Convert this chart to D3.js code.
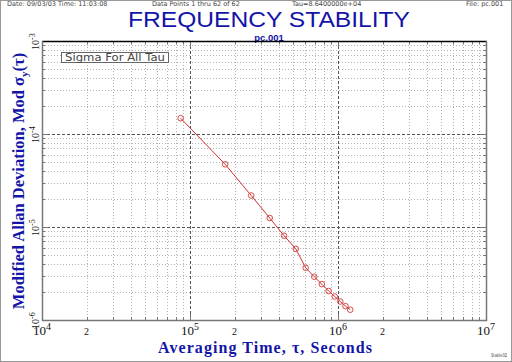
<!DOCTYPE html>
<html>
<head>
<meta charset="utf-8">
<script src="https://cdn.jsdelivr.net/npm/d3@7"></script>
<style>
  body { margin: 0; background: #fff; }
  svg { display: block; }
</style>
</head>
<body>
<div id="chart"></div>
<script>
// Data: tau (multiples of 86400 s) and Mod sigma_y(tau)
const tauValues = [86400, 172800, 259200, 345600, 432000, 518400, 604800,
                   691200, 777600, 864000, 950400, 1036800, 1123200, 1209600];
const sigmaValues = [1.48e-4, 4.72e-5, 2.18e-5, 1.25e-5, 8.06e-6, 5.83e-6, 3.64e-6,
                     2.92e-6, 2.43e-6, 2.05e-6, 1.79e-6, 1.58e-6, 1.41e-6, 1.29e-6];
const xDecades = [4, 5, 6, 7];
const yDecades = [-6, -5, -4, -3];
const headerTexts = ["Date: 09/03/03  Time: 11:03:08", "Data Points 1 thru 62 of 62",
                     "Tau=8.6400000e+04", "File: pc.001"];

const W = 512, H = 362;
const plot = {left: 42, right: 486, top: 41, bottom: 320};
const blue = "#1414a8";

const svg = d3.select("#chart").append("svg")
    .attr("width", W).attr("height", H);

svg.append("rect").attr("x", 0.5).attr("y", 0.5)
   .attr("width", W - 1).attr("height", H - 1)
   .attr("fill", "#fff").attr("stroke", "#999");

const x = d3.scaleLog().domain([1e4, 1e7]).range([plot.left, plot.right]);
const y = d3.scaleLog().domain([1e-6, 1e-3]).range([plot.bottom, plot.top]);

// Header line
const headerX = [7, 152, 292, 466];
headerTexts.forEach((t, i) => {
  svg.append("text")
     .attr("x", headerX[i]).attr("y", 6.2)
     .style("font-family", "DejaVu Sans").style("font-size", "6.5px")
     .attr("fill", "#444").text(t);
});

// Title
svg.append("text")
   .attr("x", 269).attr("y", 27.3)
   .attr("text-anchor", "middle")
   .attr("textLength", 282).attr("lengthAdjust", "spacingAndGlyphs")
   .style("font-family", "Liberation Sans").style("font-size", "21.5px")
   .attr("fill", blue).text("FREQUENCY STABILITY");

svg.append("text")
   .attr("x", 269).attr("y", 40.6)
   .attr("text-anchor", "middle")
   .style("font-family", "Liberation Sans").style("font-size", "9.5px")
   .style("font-weight", "bold")
   .attr("fill", blue).text("pc.001");

// Grid
const g = svg.append("g");
const xMinor = [], yMinor = [];
for (let d = 4; d < 7; d++) for (let m = 2; m <= 9; m++) xMinor.push(m * Math.pow(10, d));
for (let d = -6; d < -3; d++) for (let m = 2; m <= 9; m++) yMinor.push(m * Math.pow(10, d));

g.selectAll(".xminor").data(xMinor).enter().append("line")
 .attr("x1", d => Math.round(x(d)) + 0.5).attr("x2", d => Math.round(x(d)) + 0.5)
 .attr("y1", plot.top).attr("y2", plot.bottom)
 .attr("stroke", "#b4b4b4").attr("stroke-dasharray", "1,2");
g.selectAll(".yminor").data(yMinor).enter().append("line")
 .attr("y1", d => Math.round(y(d)) + 0.5).attr("y2", d => Math.round(y(d)) + 0.5)
 .attr("x1", plot.left).attr("x2", plot.right)
 .attr("stroke", "#b4b4b4").attr("stroke-dasharray", "1,2");

g.selectAll(".xmajor").data(xDecades.slice(1, -1)).enter().append("line")
 .attr("x1", d => Math.round(x(Math.pow(10, d))) + 0.5)
 .attr("x2", d => Math.round(x(Math.pow(10, d))) + 0.5)
 .attr("y1", plot.top).attr("y2", plot.bottom)
 .attr("stroke", "#555").attr("stroke-dasharray", "3,2");
g.selectAll(".ymajor").data(yDecades.slice(1, -1)).enter().append("line")
 .attr("y1", d => Math.round(y(Math.pow(10, d))) + 0.5)
 .attr("y2", d => Math.round(y(Math.pow(10, d))) + 0.5)
 .attr("x1", plot.left).attr("x2", plot.right)
 .attr("stroke", "#555").attr("stroke-dasharray", "3,2");

// Tick marks inside the frame
const allX = xMinor.concat(xDecades.map(d => Math.pow(10, d)));
const allY = yMinor.concat(yDecades.map(d => Math.pow(10, d)));
allX.forEach(v => {
  const px = Math.round(x(v)) + 0.5;
  const len = Number.isInteger(Math.log10(v)) ? 6 : 3;
  g.append("line").attr("x1", px).attr("x2", px).attr("y1", plot.bottom).attr("y2", plot.bottom - len).attr("stroke", "#777");
  g.append("line").attr("x1", px).attr("x2", px).attr("y1", plot.top).attr("y2", plot.top + len).attr("stroke", "#777");
});
allY.forEach(v => {
  const py = Math.round(y(v)) + 0.5;
  const len = Math.abs(Math.log10(v) - Math.round(Math.log10(v))) < 1e-9 ? 6 : 3;
  g.append("line").attr("y1", py).attr("y2", py).attr("x1", plot.left).attr("x2", plot.left + len).attr("stroke", "#777");
  g.append("line").attr("y1", py).attr("y2", py).attr("x1", plot.right).attr("x2", plot.right - len).attr("stroke", "#777");
});

// Frame
svg.append("line").attr("x1", plot.left).attr("x2", plot.right + 1)
   .attr("y1", plot.top + 0.5).attr("y2", plot.top + 0.5).attr("stroke", "#000").attr("stroke-width", 1.5);
svg.append("line").attr("x1", plot.left + 0.5).attr("x2", plot.left + 0.5)
   .attr("y1", plot.top).attr("y2", plot.bottom + 1).attr("stroke", "#777").attr("stroke-width", 1.5);
svg.append("line").attr("x1", plot.right + 0.5).attr("x2", plot.right + 0.5)
   .attr("y1", plot.top).attr("y2", plot.bottom + 1).attr("stroke", "#777").attr("stroke-width", 1.5);
svg.append("line").attr("x1", plot.left).attr("x2", plot.right + 1)
   .attr("y1", plot.bottom + 0.5).attr("y2", plot.bottom + 0.5).attr("stroke", "#777").attr("stroke-width", 1.5);

// Legend box
svg.append("rect").attr("x", 61.5).attr("y", 52.5).attr("width", 107).attr("height", 10)
   .attr("fill", "#fff").attr("stroke", "#666");
svg.append("text").attr("x", 115).attr("y", 61)
   .attr("text-anchor", "middle")
   .attr("textLength", 100).attr("lengthAdjust", "spacingAndGlyphs")
   .style("font-family", "DejaVu Sans").style("font-size", "10px")
   .attr("fill", "#444").text("Sigma For All Tau");

// Data line and markers
const pts = tauValues.map((t, i) => ({tau: t, sigma: sigmaValues[i]}));
svg.append("path").datum(pts)
   .attr("fill", "none").attr("stroke", "#d03030").attr("stroke-width", 1)
   .attr("d", d3.line().x(d => x(d.tau)).y(d => y(d.sigma)));
const mk = svg.selectAll(".pt").data(pts).enter().append("g")
   .attr("transform", d => `translate(${x(d.tau)},${y(d.sigma)})`);
mk.append("circle").attr("r", 2.8).attr("fill", "none")
  .attr("stroke", "#d84848").attr("stroke-width", 1);

// X tick labels
xDecades.forEach(d => {
  const t = svg.append("text")
     .attr("x", x(Math.pow(10, d)) - 9).attr("y", 334.5)
     .style("font-family", "Liberation Serif").style("font-size", "13px")
     .attr("fill", "#111");
  t.append("tspan").text("10");
  t.append("tspan").attr("dy", -5).style("font-size", "10px").text(d);
});
[2e4, 2e5, 2e6].forEach(v => {
  svg.append("text").attr("x", x(v)).attr("y", 335).attr("text-anchor", "middle")
     .style("font-family", "Liberation Serif").style("font-size", "10px")
     .attr("fill", "#111").text("2");
});

// Y tick labels (rotated)
yDecades.forEach(d => {
  const py = y(Math.pow(10, d)) + 9;
  const t = svg.append("text")
     .attr("transform", `translate(39,${py}) rotate(-90)`)
     .style("font-family", "Liberation Serif").style("font-size", "10px")
     .attr("fill", "#111");
  t.append("tspan").text("10");
  t.append("tspan").attr("dy", -4).style("font-size", "8px").text(d);
});

// Axis titles
svg.append("text")
   .attr("x", 265).attr("y", 352.5).attr("text-anchor", "middle")
   .attr("textLength", 214).attr("lengthAdjust", "spacing")
   .style("font-family", "Liberation Serif").style("font-size", "16px")
   .style("font-weight", "bold")
   .attr("fill", blue).text("Averaging Time, \u03C4, Seconds");

const yl = svg.append("text")
   .attr("transform", "translate(24,181) rotate(-90)")
   .attr("text-anchor", "middle")
   .style("font-family", "Liberation Serif").style("font-size", "16.5px")
   .style("font-weight", "bold")
   .attr("fill", blue);
yl.append("tspan").text("Modified Allan Deviation, Mod \u03C3");
yl.append("tspan").attr("dy", 4).style("font-size", "11px").text("y");
yl.append("tspan").attr("dy", -4).text("(\u03C4)");

svg.append("text").attr("x", 491).attr("y", 357)
   .attr("textLength", 16).attr("lengthAdjust", "spacingAndGlyphs")
   .style("font-family", "DejaVu Sans").style("font-size", "5px")
   .attr("fill", "#333").text("Stable32");
</script>
</body>
</html>
